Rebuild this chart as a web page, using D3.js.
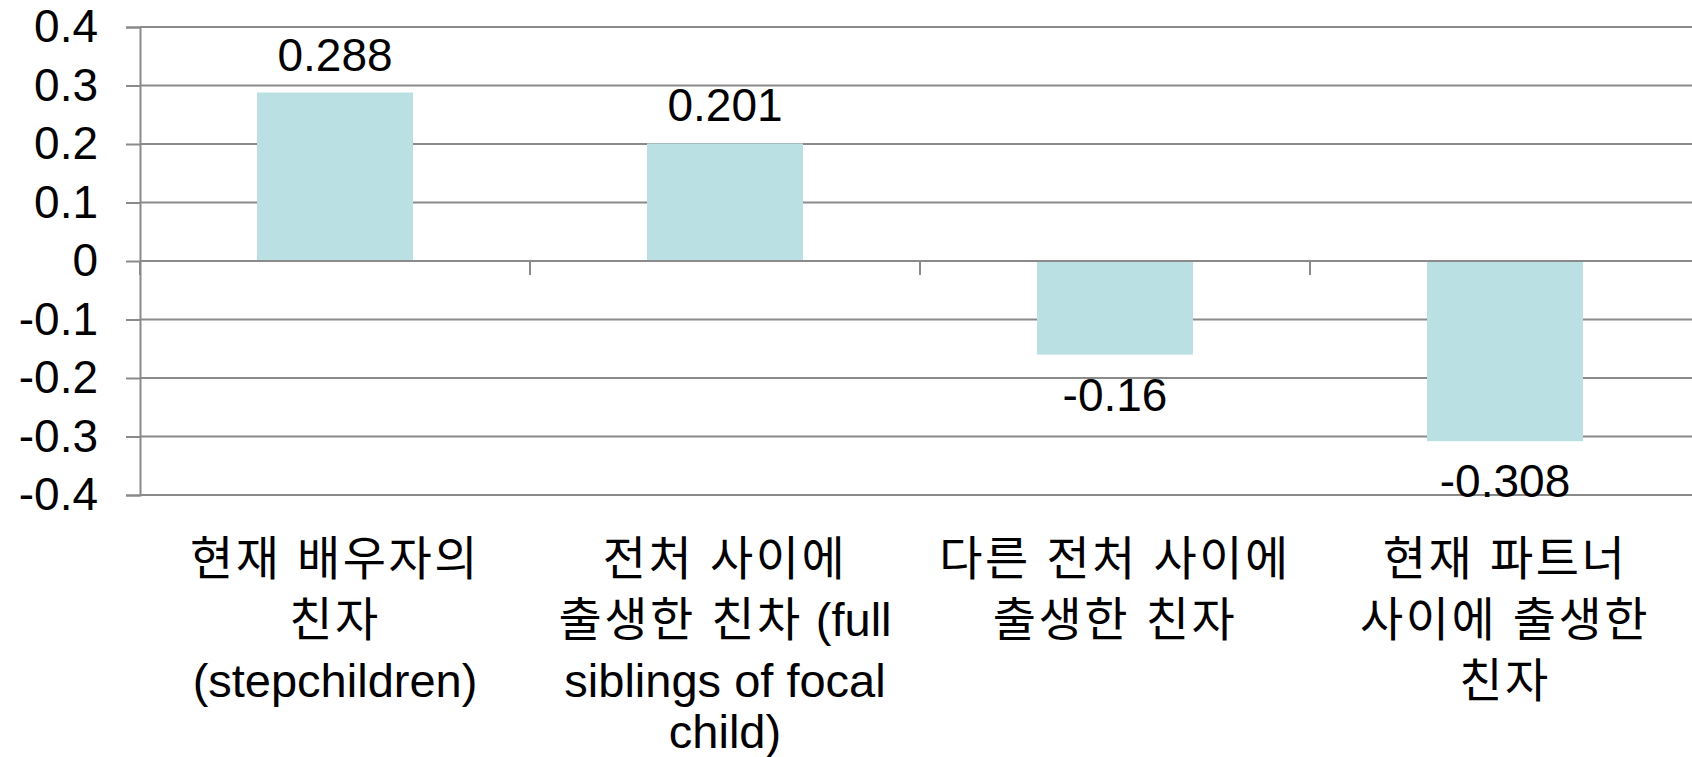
<!DOCTYPE html>
<html>
<head>
<meta charset="utf-8">
<script src="https://cdn.jsdelivr.net/npm/d3@7"></script>
<style>
  body { margin: 0; background: #fff; }
  text { font-family: "Liberation Sans", Arial, "Noto Sans CJK KR", sans-serif; fill: #000; }
</style>
</head>
<body>
<script>
// chart data
const categories = ['c1', 'c2', 'c3', 'c4']
const values = [0.288, 0.201, -0.16, -0.308]
const valueLabels = ['0.288', '0.201', '-0.16', '-0.308']
const categoryLines = [
  ['현재 배우자의', '친자', '(stepchildren)'],
  ['전처 사이에', '출생한 친차 (full', 'siblings of focal', 'child)'],
  ['다른 전처 사이에', '출생한 친자'],
  ['현재 파트너', '사이에 출생한', '친자']
]
const yTicks = [0.4, 0.3, 0.2, 0.1, 0, -0.1, -0.2, -0.3, -0.4]
const yTickLabels = ['0.4', '0.3', '0.2', '0.1', '0', '-0.1', '-0.2', '-0.3', '-0.4']

// svg dimension
const width = 1692
const height = 757
const margin = { top: 27, left: 140 }
const plotRight = 1700
const plotBottom = 495
const numFontSize = 46
const catFontSize = 47
const gridColor = '#8a8a8a'
const barColor = '#bae0e3'

// baseline of each category label line
const lineBaselines = [575, 636, 697, 748]

const svg = d3.select('body')
  .append('svg')
  .attr('width', width)
  .attr('height', height)

// slot scale (one slot per category) and y-scale
const xSlot = d3.scaleBand()
  .domain(categories)
  .range([margin.left, plotRight])

const yScale = d3.scaleLinear()
  .domain([-0.4, 0.4])
  .range([plotBottom, margin.top])

const barOffset = xSlot.bandwidth() * 0.3
const barWidth = xSlot.bandwidth() * 0.4
const xCenter = c => xSlot(c) + xSlot.bandwidth() / 2

// horizontal grid lines
svg.append('g')
  .selectAll('line')
  .data(yTicks.filter(d => d !== 0))
  .enter()
  .append('line')
  .attr('x1', margin.left)
  .attr('x2', plotRight)
  .attr('y1', d => yScale(d))
  .attr('y2', d => yScale(d))
  .attr('stroke', gridColor)
  .attr('stroke-width', 2)

// bars
svg.append('g')
  .selectAll('rect')
  .data(values)
  .enter()
  .append('rect')
  .attr('x', (d, i) => xSlot(categories[i]) + barOffset)
  .attr('width', barWidth)
  .attr('y', d => yScale(Math.max(0, d)))
  .attr('height', d => Math.abs(yScale(d) - yScale(0)))
  .attr('fill', barColor)

// y-axis
const yAxis = d3.axisLeft(yScale)
  .tickValues(yTicks)
  .tickFormat((d, i) => yTickLabels[i])
  .tickSize(14)
  .tickPadding(28)

const yAxisG = svg.append('g')
  .attr('transform', `translate(${margin.left}, 0)`)
  .call(yAxis)

yAxisG.select('.domain')
  .attr('stroke', gridColor)
  .attr('stroke-width', 2)
yAxisG.selectAll('.tick line')
  .attr('stroke', gridColor)
  .attr('stroke-width', 2)
yAxisG.selectAll('.tick text')
  .attr('font-size', numFontSize)
  .attr('font-family', null)
  .attr('fill', '#000')

// zero line with category ticks
const zeroY = yScale(0)
svg.append('line')
  .attr('x1', margin.left)
  .attr('x2', plotRight)
  .attr('y1', zeroY)
  .attr('y2', zeroY)
  .attr('stroke', gridColor)
  .attr('stroke-width', 2)

const slotEdges = categories.map(c => xSlot(c)).concat([plotRight])
svg.append('g')
  .selectAll('line')
  .data(slotEdges)
  .enter()
  .append('line')
  .attr('x1', d => d)
  .attr('x2', d => d)
  .attr('y1', zeroY)
  .attr('y2', zeroY + 14)
  .attr('stroke', gridColor)
  .attr('stroke-width', 2)

// value labels
svg.append('g')
  .selectAll('text')
  .data(values)
  .enter()
  .append('text')
  .attr('x', (d, i) => xCenter(categories[i]))
  .attr('y', d => d >= 0 ? yScale(d) - 22 : yScale(d) + 56)
  .attr('text-anchor', 'middle')
  .attr('font-size', numFontSize)
  .text((d, i) => valueLabels[i])

// category labels: split each line into hangul / latin runs,
// hangul runs get a little extra spacing
const runs = s => s.match(/[\uac00-\ud7a3 ]+(?=[\uac00-\ud7a3])[\uac00-\ud7a3]|[\uac00-\ud7a3]+|[^\uac00-\ud7a3]+/g)

const catG = svg.append('g')
  .selectAll('text')
  .data(categories)
  .enter()
  .append('text')
  .attr('text-anchor', 'middle')
  .attr('font-size', catFontSize)

catG.selectAll('tspan.line')
  .data((c, i) => categoryLines[i].map(t => ({ c, t })))
  .enter()
  .append('tspan')
  .attr('class', 'line')
  .attr('x', d => xCenter(d.c))
  .attr('y', (d, j) => lineBaselines[j])
  .selectAll('tspan')
  .data(d => runs(d.t))
  .enter()
  .append('tspan')
  .attr('letter-spacing', r => /[\uac00-\ud7a3]/.test(r) ? 2.5 : 0)
  .text(r => r)
</script>
</body>
</html>
